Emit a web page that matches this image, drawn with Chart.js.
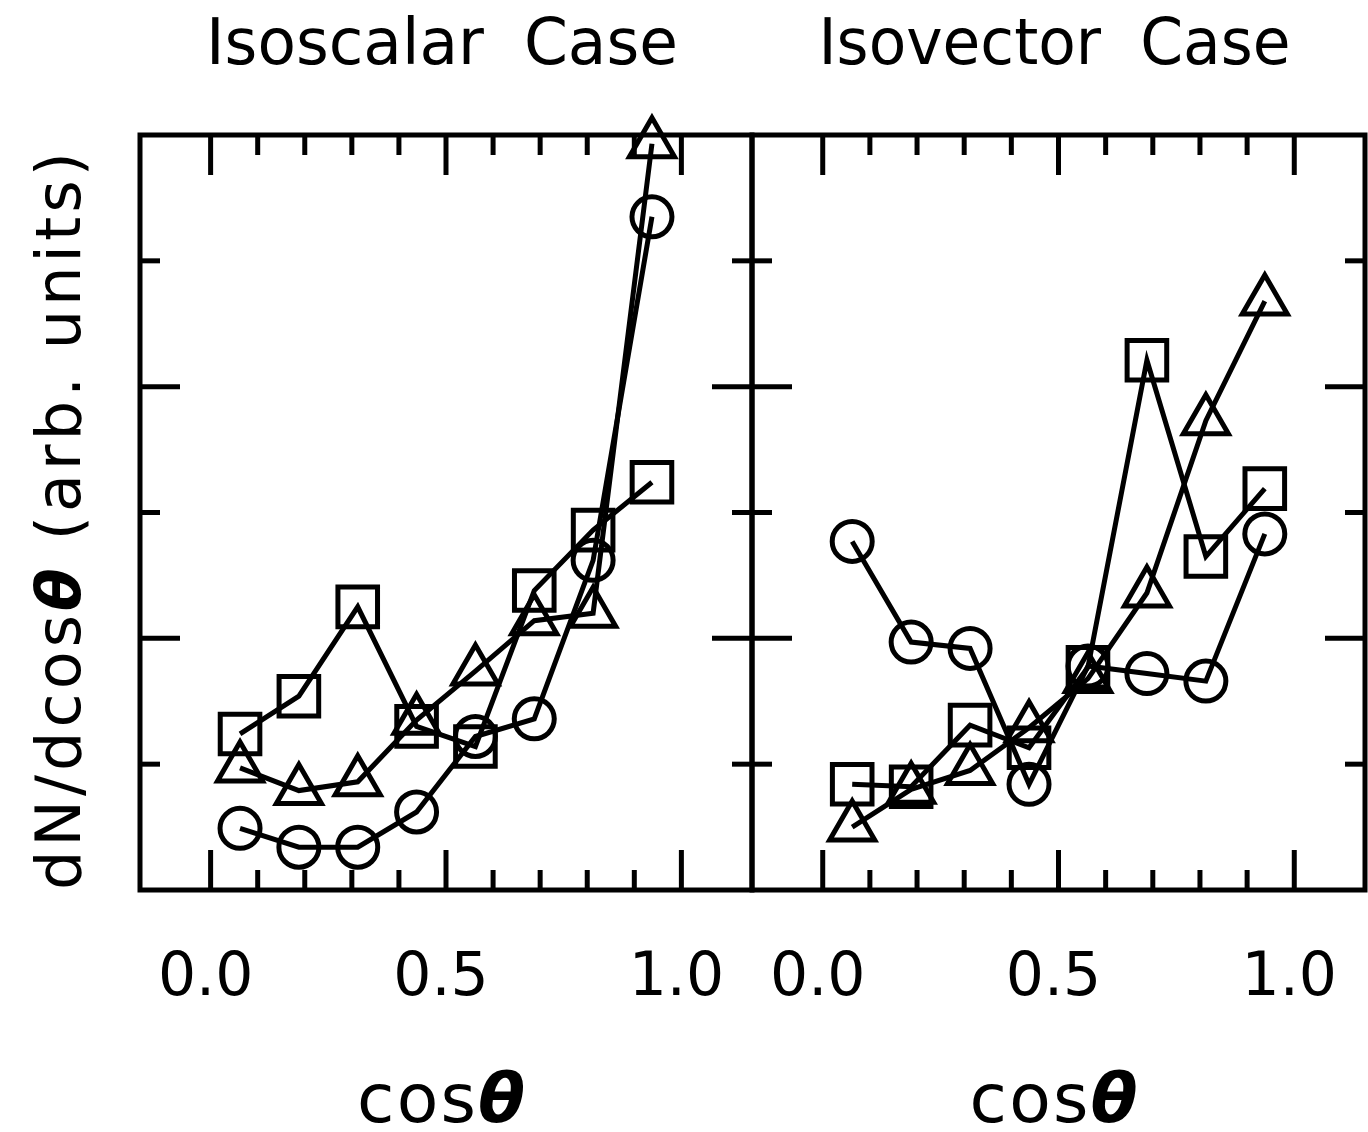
<!DOCTYPE html>
<html>
<head>
<meta charset="utf-8">
<script src="https://cdn.jsdelivr.net/npm/chart.js@4/dist/chart.umd.min.js"></script>
<style>
  body { margin: 0; background: #fff; }
  #wrap { position: relative; width: 1368px; height: 1132px; background: #fff; }
  canvas { position: absolute; top: 0; }
</style>
</head>
<body>
<div id="wrap">
  <canvas id="left" width="760" height="1132" style="left:0"></canvas>
  <canvas id="right" width="624" height="1132" style="left:744px"></canvas>
</div>
<script>
// bin centres in cos(theta)
const cosBins = [0.0625, 0.1875, 0.3125, 0.4375, 0.5625, 0.6875, 0.8125, 0.9375];
const xTickLabels = ['0.0', '0.5', '1.0'];
const xTickValues = [0, 0.5, 1.0];

// isoscalar panel
const isoscalarSquares   = [1.24, 1.54, 2.25, 1.30, 1.14, 2.38, 2.86, 3.24];
const isoscalarTriangles = [0.97, 0.79, 0.86, 1.35, 1.74, 2.14, 2.20, 5.93];
const isoscalarCircles   = [0.49, 0.34, 0.34, 0.62, 1.22, 1.36, 2.62, 5.35];

// isovector panel
const isovectorSquares   = [0.84, 0.82, 1.31, 1.13, 1.77, 4.21, 2.65, 3.19];
const isovectorTriangles = [0.50, 0.80, 0.95, 1.29, 1.68, 2.36, 3.73, 4.68];
const isovectorCircles   = [2.77, 1.97, 1.92, 0.84, 1.78, 1.72, 1.66, 2.83];

const FONT = '"DejaVu Sans"';

function pts(vals) {
  return cosBins.map((c, i) => ({ x: c, y: vals[i] }));
}

function series(vals, style, r) {
  return {
    data: pts(vals),
    borderColor: '#000',
    borderWidth: 5,
    pointStyle: style,
    pointRadius: r,
    pointBorderWidth: 5,
    pointBorderColor: '#000',
    pointBackgroundColor: 'rgba(0,0,0,0)',
    tension: 0,
    clip: false
  };
}

// draw text char by char to fill a given width:
// extra room goes into letter spacing, too little room squeezes the glyphs
function fitText(ctx, parts, x, y, width) {
  let natural = 0, n = 0;
  parts.forEach(p => {
    ctx.font = p.font;
    for (const ch of p.text) { natural += ctx.measureText(ch).width; n++; }
  });
  let sx = 1, ls = 0;
  if (natural > width) sx = width / natural;
  else if (n > 1) ls = (width - natural) / (n - 1);
  ctx.save();
  ctx.translate(x, y);
  ctx.scale(sx, 1);
  let cx = 0;
  parts.forEach(p => {
    ctx.font = p.font;
    for (const ch of p.text) {
      ctx.fillText(ch, cx, 0);
      cx += ctx.measureText(ch).width + ls / sx;
    }
  });
  ctx.restore();
}

const frameDeco = {
  id: 'frameDeco',
  afterDraw(chart, args, opts) {
    const { ctx, chartArea: a, scales: { x, y } } = chart;
    ctx.save();
    ctx.strokeStyle = '#000';
    ctx.fillStyle = '#000';
    ctx.lineWidth = 5;
    ctx.strokeRect(a.left, a.top, a.right - a.left, a.bottom - a.top);

    const seg = (x1, y1, x2, y2) => {
      ctx.beginPath(); ctx.moveTo(x1, y1); ctx.lineTo(x2, y2); ctx.stroke();
    };
    // inward ticks, every 0.1 on x, every unit on y
    for (let i = 0; i <= 10; i++) {
      const px = x.getPixelForValue(i / 10);
      const len = i % 5 === 0 ? 40 : 20;
      seg(px, a.bottom, px, a.bottom - len);
      seg(px, a.top, px, a.top + len);
    }
    for (let v = 1; v <= 5; v++) {
      const py = y.getPixelForValue(v);
      const len = v % 2 === 0 ? 40 : 20;
      seg(a.left, py, a.left + len, py);
      seg(a.right, py, a.right - len, py);
    }

    // tick labels
    ctx.textAlign = 'center';
    ctx.textBaseline = 'alphabetic';
    ctx.font = '60px ' + FONT;
    xTickValues.forEach((v, i) => {
      ctx.fillText(xTickLabels[i], x.getPixelForValue(v) - 5, 995);
    });
    ctx.textAlign = 'left';

    // axis title cos(theta)
    const mid = x.getPixelForValue(0.5) - 5;
    fitText(ctx, [
      { text: 'cos', font: '68px ' + FONT },
      { text: '\u03b8', font: 'bold italic 68px ' + FONT }
    ], mid - 84, 1122, 168);

    // panel title
    const tw = 472;
    fitText(ctx, [{ text: opts.title, font: '64px ' + FONT }],
      x.getPixelForValue(0.5) - 4 - tw / 2, 64, tw);

    // y axis title on the left panel only
    if (opts.yLabel) {
      ctx.translate(80, 521);
      ctx.rotate(-Math.PI / 2);
      const yw = 738;
      fitText(ctx, [
        { text: 'dN/dcos', font: '62px ' + FONT },
        { text: '\u03b8', font: 'bold italic 62px ' + FONT },
        { text: ' (arb. units)', font: '62px ' + FONT }
      ], -yw / 2, 0, yw);
    }
    ctx.restore();
  }
};

function makeChart(id, sq, tri, circ, pad, title, yLabel) {
  return new Chart(document.getElementById(id), {
    type: 'line',
    data: {
      datasets: [
        series(sq, 'rect', 28),
        series(tri, 'triangle', 26),
        series(circ, 'circle', 20)
      ]
    },
    options: {
      responsive: false,
      animation: false,
      devicePixelRatio: 1,
      layout: { padding: pad, autoPadding: false },
      plugins: {
        legend: { display: false },
        tooltip: { enabled: false },
        frameDeco: { title: title, yLabel: yLabel }
      },
      scales: {
        x: { type: 'linear', min: -0.15, max: 1.15, display: false },
        y: { type: 'linear', min: 0, max: 6, display: false }
      }
    },
    plugins: [frameDeco]
  });
}

makeChart('left', isoscalarSquares, isoscalarTriangles, isoscalarCircles,
  { left: 140, right: 8, top: 135, bottom: 242 }, 'Isoscalar  Case', true);
makeChart('right', isovectorSquares, isovectorTriangles, isovectorCircles,
  { left: 8, right: 3, top: 135, bottom: 242 }, 'Isovector  Case', false);
</script>
</body>
</html>
